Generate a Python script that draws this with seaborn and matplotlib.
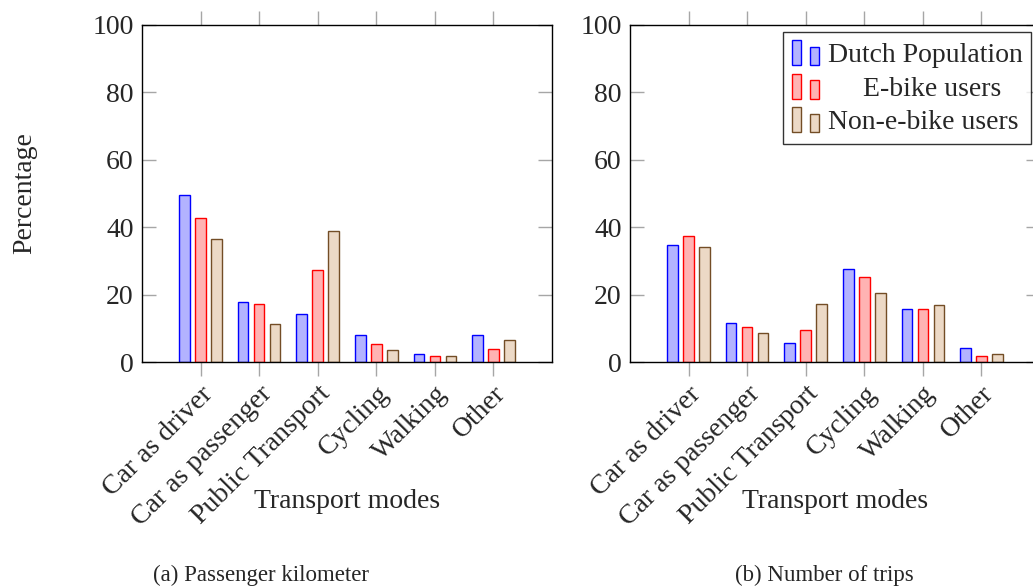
import numpy as np
import pandas as pd
import matplotlib
matplotlib.use("Agg")
import matplotlib.pyplot as plt
import seaborn as sns
from matplotlib.patches import Patch, Rectangle
from matplotlib.legend_handler import HandlerBase

# ---------------- data ----------------
modes = ["Car as driver", "Car as passenger", "Public Transport", "Cycling", "Walking", "Other"]
groups = ["Dutch Population", "E-bike users", "Non-e-bike users"]

km_dutch = [49.5, 17.7, 14.2, 8.1, 2.5, 8.1]
km_ebike = [42.6, 17.1, 27.2, 5.2, 1.7, 3.8]
km_nonebike = [36.6, 11.2, 39.0, 3.5, 1.7, 6.4]

trips_dutch = [34.8, 11.5, 5.7, 27.7, 15.6, 4.1]
trips_ebike = [37.4, 10.3, 9.4, 25.3, 15.6, 1.8]
trips_nonebike = [34.0, 8.6, 17.1, 20.5, 16.8, 2.5]

y_ticks = [0, 20, 40, 60, 80, 100]
captions = ["(a) Passenger kilometer", "(b) Number of trips"]

# ---------------- style ----------------
sns.set_theme(style="white")
plt.rcParams["font.family"] = ["Liberation Serif", "DejaVu Serif"]

fills = ["#b3b3ff", "#ffb3b3", "#ecd9c6"]
edges = ["#0000ff", "#ff0000", "#734d26"]
tick_gray = "#a6a6a6"
FS = 20


def long_df(a, b, c):
    rows = []
    for g, vals in zip(groups, [a, b, c]):
        for m, v in zip(modes, vals):
            rows.append({"mode": m, "group": g, "value": v})
    return pd.DataFrame(rows)


W, H = 1033, 587
fig = plt.figure(figsize=(W / 100, H / 100), dpi=100)
ax_l = fig.add_axes([142 / W, (H - 362) / H, 410 / W, 337 / H])
ax_r = fig.add_axes([630 / W, (H - 362) / H, 410 / W, 337 / H])

datasets = [(km_dutch, km_ebike, km_nonebike), (trips_dutch, trips_ebike, trips_nonebike)]

for ax, ds in zip([ax_l, ax_r], datasets):
    df = long_df(*ds)
    sns.barplot(data=df, x="mode", y="value", hue="group", hue_order=groups,
                order=modes, palette=fills, saturation=1, width=0.82, gap=0.34,
                errorbar=None, legend=False, ax=ax)
    for cont, ec in zip(ax.containers, edges):
        for p in cont:
            p.set_edgecolor(ec)
            p.set_linewidth(1.0)
    ax.set_xlim(-1, 6)
    ax.set_ylim(0, 100)
    ax.set_yticks(y_ticks)
    ax.set_yticklabels([str(t) for t in y_ticks], fontsize=FS)
    ax.set_xticks(range(len(modes)))
    ax.set_xticklabels(modes, rotation=45, ha="right", va="top",
                       rotation_mode="anchor", fontsize=FS)
    ax.tick_params(axis="y", direction="in", left=True, right=True, length=10,
                   width=1, color=tick_gray, labelright=False, pad=6)
    ax.tick_params(axis="x", direction="out", bottom=True, top=True, length=10,
                   width=1, color=tick_gray, labeltop=False, pad=4)
    for s in ax.spines.values():
        s.set_visible(True)
        s.set_color("#000000")
        s.set_linewidth(1.0)
    ax.set_xlabel("Transport modes", fontsize=FS, va="center")
    ax.xaxis.set_label_coords(0.5, (362 - 502) / 337)
    ax.set_ylabel("")
    ax.set_facecolor("white")

ax_l.set_ylabel("Percentage", fontsize=FS, va="center")
ax_l.yaxis.set_label_coords((25 - 142) / 410, 0.5)

fig.text(261 / W, 1 - 575 / H, captions[0], ha="center", va="center", fontsize=16.5)
fig.text(824 / W, 1 - 575 / H, captions[1], ha="center", va="center", fontsize=16.5)


class BarPairHandler(HandlerBase):
    def create_artists(self, legend, orig_handle, xdescent, ydescent, width,
                       height, fontsize, trans):
        fc = orig_handle.get_facecolor()
        ec = orig_handle.get_edgecolor()
        w = width * 0.34
        r1 = Rectangle((-xdescent, -ydescent), w, height, facecolor=fc,
                       edgecolor=ec, linewidth=1, transform=trans)
        r2 = Rectangle((-xdescent + width * 0.66, -ydescent), w, height * 0.75,
                       facecolor=fc, edgecolor=ec, linewidth=1, transform=trans)
        return [r1, r2]


handles = [Patch(facecolor=f, edgecolor=e) for f, e in zip(fills, edges)]
labels = [groups[0], "     " + groups[1], groups[2]]
leg = ax_r.legend(handles, labels, loc="upper right",
                  bbox_to_anchor=(1031 / W, 1 - 32 / H), bbox_transform=fig.transFigure,
                  borderaxespad=0, fontsize=FS, frameon=True, fancybox=False,
                  handlelength=1.0, handleheight=1.0, handletextpad=0.3,
                  labelspacing=0.2, borderpad=0.3,
                  handler_map={h: BarPairHandler() for h in handles})
leg.get_frame().set_edgecolor("black")
leg.get_frame().set_linewidth(1.0)

fig.savefig("out.png", dpi=100)
